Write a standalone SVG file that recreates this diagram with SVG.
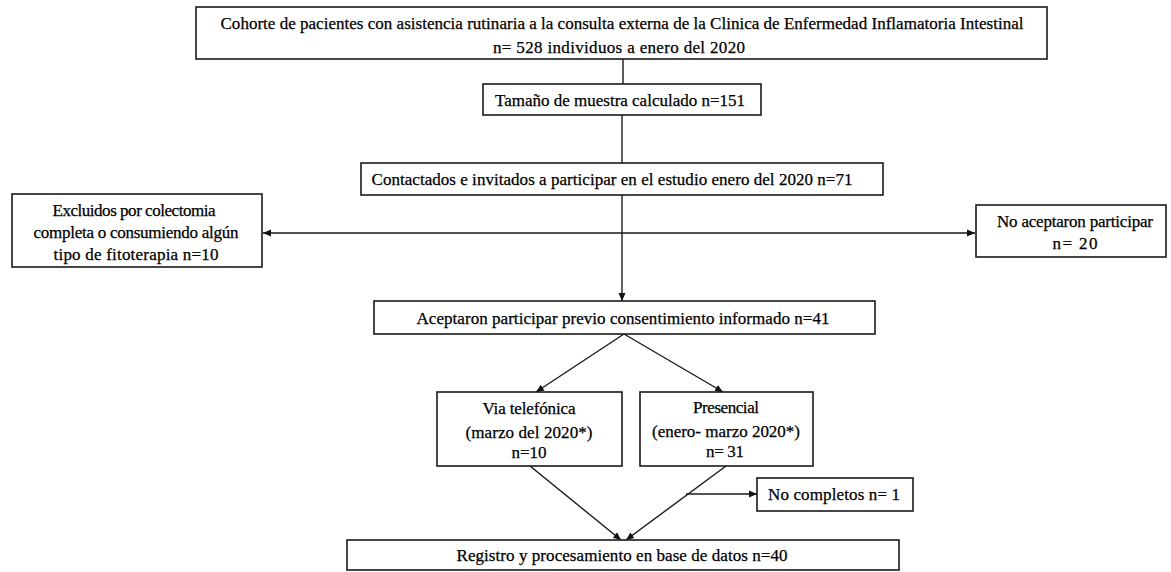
<svg xmlns="http://www.w3.org/2000/svg" width="1171" height="572" viewBox="0 0 1171 572">
<style>
.box{fill:#fff;stroke:#1a1a1a;stroke-width:1.6}
.t{font-family:"Liberation Serif","Times New Roman",serif;font-size:17px;fill:#000;stroke:#000;stroke-width:0.25;text-anchor:middle}
.c{stroke:#1a1a1a;stroke-width:1.4;fill:none}
</style>
<defs>
<marker id="ah" markerWidth="9" markerHeight="8" refX="8" refY="4" orient="auto-start-reverse" markerUnits="userSpaceOnUse">
<path d="M0,0.5 L8,4 L0,7.5 z" fill="#111"/>
</marker>
</defs>
<rect width="1171" height="572" fill="#fff"/>
<g id="connectors">
<line class="c" x1="623" y1="59" x2="623" y2="84"/>
<line class="c" x1="622" y1="115" x2="622" y2="163"/>
<line class="c" x1="622" y1="195" x2="622" y2="301" marker-end="url(#ah)"/>
<line class="c" x1="263" y1="233" x2="975" y2="233" marker-start="url(#ah)" marker-end="url(#ah)"/>
<line class="c" x1="624" y1="334" x2="536" y2="392" marker-end="url(#ah)"/>
<line class="c" x1="624" y1="334" x2="723" y2="392" marker-end="url(#ah)"/>
<line class="c" x1="530" y1="466" x2="621" y2="540" marker-end="url(#ah)"/>
<line class="c" x1="726" y1="466" x2="626" y2="540" marker-end="url(#ah)"/>
<line class="c" x1="686" y1="494" x2="757" y2="494" marker-end="url(#ah)"/>
</g>
<g id="cohorte">
<rect class="box" x="196" y="7" width="851" height="52"/>
<text class="t" x="622" y="29" textLength="803" lengthAdjust="spacing">Cohorte de pacientes  con asistencia  rutinaria  a la consulta  externa  de la Clinica  de Enfermedad  Inflamatoria  Intestinal</text>
<text class="t" x="619" y="53" textLength="252" lengthAdjust="spacing">n= 528 individuos  a enero del 2020</text>
</g>
<g id="tamano">
<rect class="box" x="483" y="84" width="278" height="31"/>
<text class="t" x="620" y="106" textLength="250" lengthAdjust="spacing">Tamaño  de muestra  calculado  n=151</text>
</g>
<g id="contactados">
<rect class="box" x="361" y="163" width="522" height="32"/>
<text class="t" x="612" y="185" textLength="481" lengthAdjust="spacing">Contactados  e invitados  a participar  en el estudio  enero  del 2020 n=71</text>
</g>
<g id="excluidos">
<rect class="box" x="12" y="194" width="250" height="73"/>
<text class="t" x="134" y="216" textLength="163" lengthAdjust="spacing">Excluidos  por colectomia</text>
<text class="t" x="136" y="238" textLength="205" lengthAdjust="spacing">completa  o consumiendo  algún</text>
<text class="t" x="136" y="260" textLength="165" lengthAdjust="spacing">tipo  de fitoterapia  n=10</text>
</g>
<g id="no-aceptaron">
<rect class="box" x="976" y="205" width="190" height="52"/>
<text class="t" x="1075" y="227" textLength="156" lengthAdjust="spacing">No aceptaron  participar</text>
<text class="t" x="1075" y="249" textLength="45" lengthAdjust="spacing">n= 20</text>
</g>
<g id="aceptaron">
<rect class="box" x="374" y="301" width="501" height="33"/>
<text class="t" x="623" y="324" textLength="413" lengthAdjust="spacing">Aceptaron  participar  previo  consentimiento  informado  n=41</text>
</g>
<g id="via-telefonica">
<rect class="box" x="437" y="392" width="185" height="74"/>
<text class="t" x="529" y="414" textLength="93" lengthAdjust="spacing">Via telefónica</text>
<text class="t" x="529" y="438" textLength="127" lengthAdjust="spacing">(marzo  del 2020*)</text>
<text class="t" x="529" y="458" textLength="35" lengthAdjust="spacing">n=10</text>
</g>
<g id="presencial">
<rect class="box" x="640" y="392" width="173" height="74"/>
<text class="t" x="726" y="413" textLength="66" lengthAdjust="spacing">Presencial</text>
<text class="t" x="726" y="437" textLength="148" lengthAdjust="spacing">(enero- marzo  2020*)</text>
<text class="t" x="725" y="457" textLength="38" lengthAdjust="spacing">n= 31</text>
</g>
<g id="no-completos">
<rect class="box" x="757" y="478" width="156" height="33"/>
<text class="t" x="834" y="500" textLength="132" lengthAdjust="spacing">No completos  n= 1</text>
</g>
<g id="registro">
<rect class="box" x="347" y="540" width="552" height="30"/>
<text class="t" x="622" y="561" textLength="331" lengthAdjust="spacing">Registro  y procesamiento  en base de datos n=40</text>
</g>
</svg>
